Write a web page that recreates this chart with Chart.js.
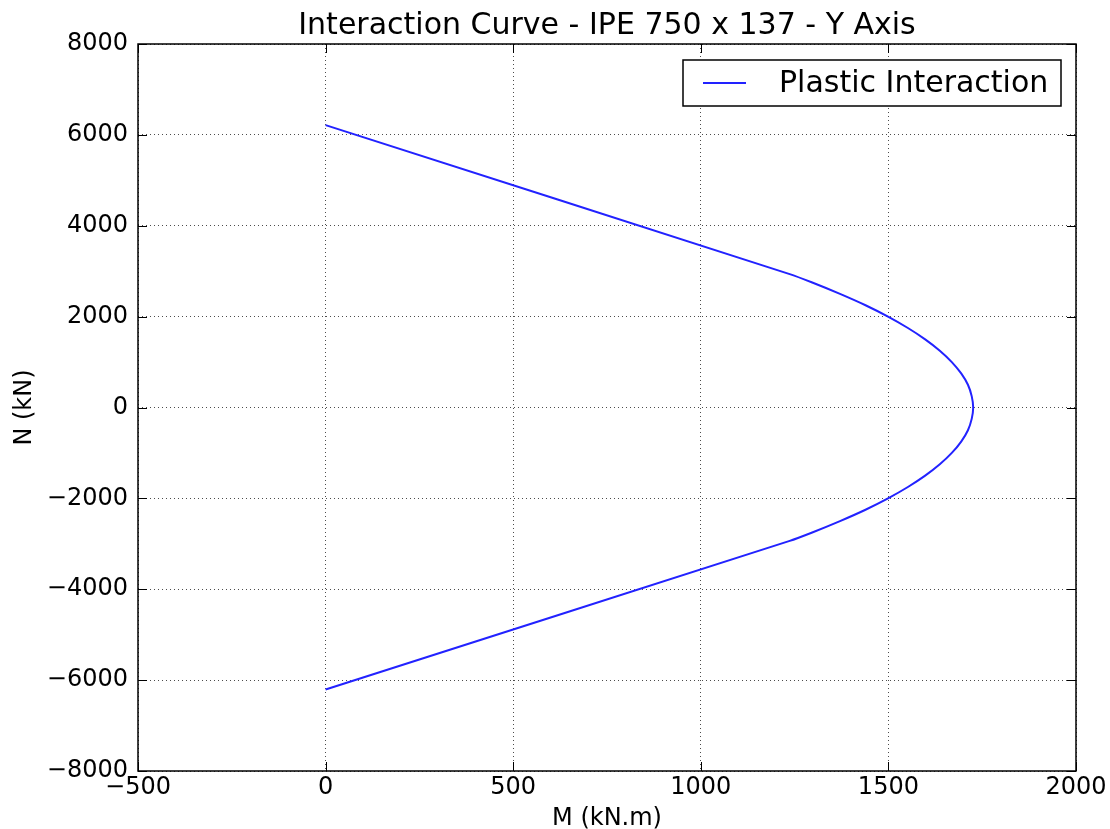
<!DOCTYPE html>
<html>
<head>
<meta charset="utf-8">
<script src="https://cdn.jsdelivr.net/npm/chart.js@4/dist/chart.umd.min.js"></script>
<style>
body{margin:0;background:#fff;}
#wrap{width:1110px;height:829px;}
</style>
</head>
<body>
<div id="wrap"><canvas id="chart" width="1110" height="829"></canvas></div>
<script>
// points of the interaction curve (top to bottom)
const momentValues = [0, 1237, 1297, 1371, 1439, 1499, 1552, 1598, 1637, 1669, 1694, 1712, 1722, 1726,
  1722, 1712, 1694, 1669, 1637, 1598, 1552, 1499, 1439, 1371, 1297, 1237, 0];
const axialValues = [6215, 2935, 2750, 2500, 2250, 2000, 1750, 1500, 1250, 1000, 750, 500, 250, 0,
  -250, -500, -750, -1000, -1250, -1500, -1750, -2000, -2250, -2500, -2750, -2935, -6205];

const xTicks = [-500, 0, 500, 1000, 1500, 2000];
const yTicks = [-8000, -6000, -4000, -2000, 0, 2000, 4000, 6000, 8000];

const chartTitle = "Interaction Curve - IPE 750 x 137 - Y Axis";
const seriesName = "Plastic Interaction";

const FONT = "'DejaVu Sans', sans-serif";

const fmt = v => (v < 0 ? "\u2212" + Math.abs(v) : "" + v);

const points = momentValues.map((m, i) => ({x: m, y: axialValues[i]}));

// title over the plot, frame, inward ticks on all four sides, boxed legend
const framePlugin = {
  id: "frame",
  afterDraw(chart){
    const ctx = chart.ctx;
    const a = chart.chartArea;
    const xs = chart.scales.x;
    const ys = chart.scales.y;
    ctx.save();

    ctx.fillStyle = "#000";
    ctx.font = "30px " + FONT;
    ctx.textAlign = "center";
    ctx.textBaseline = "alphabetic";
    ctx.fillText(chartTitle, (a.left + a.right) / 2, 34);
    ctx.textAlign = "left";

    ctx.strokeStyle = "#000";
    ctx.lineWidth = 1.5;
    ctx.strokeRect(a.left, a.top, a.right - a.left, a.bottom - a.top);
    ctx.lineWidth = 1;
    ctx.beginPath();
    xTicks.forEach(v => {
      const px = Math.round(xs.getPixelForValue(v)) + 0.5;
      ctx.moveTo(px, a.bottom); ctx.lineTo(px, a.bottom - 9);
      ctx.moveTo(px, a.top); ctx.lineTo(px, a.top + 9);
    });
    yTicks.forEach(v => {
      const py = Math.round(ys.getPixelForValue(v)) + 0.5;
      ctx.moveTo(a.left, py); ctx.lineTo(a.left + 9, py);
      ctx.moveTo(a.right, py); ctx.lineTo(a.right - 9, py);
    });
    ctx.stroke();

    // legend
    const bx = a.right - 393, by = a.top + 16, bw = 378, bh = 46;
    ctx.fillStyle = "#fff";
    ctx.fillRect(bx, by, bw, bh);
    ctx.lineWidth = 1.5;
    ctx.strokeRect(bx, by, bw, bh);
    ctx.strokeStyle = "#2222ff";
    ctx.lineWidth = 2;
    ctx.beginPath();
    ctx.moveTo(bx + 20, by + 23);
    ctx.lineTo(bx + 63, by + 23);
    ctx.stroke();
    ctx.fillStyle = "#000";
    ctx.font = "30px " + FONT;
    ctx.textBaseline = "middle";
    ctx.fillText(seriesName, bx + 96, by + 24);
    ctx.restore();
  }
};

new Chart(document.getElementById("chart"), {
  type: "scatter",
  data: {
    datasets: [{
      label: seriesName,
      data: points,
      showLine: true,
      borderColor: "#2222ff",
      borderWidth: 2,
      pointRadius: 0,
      tension: 0.2,
      fill: false
    }]
  },
  options: {
    responsive: false,
    animation: false,
    layout: {padding: {left: 0, right: 34, top: 44, bottom: 0}},
    plugins: {
      legend: {display: false},
      tooltip: {enabled: false},
      title: {display: false}
    },
    scales: {
      x: {
        type: "linear",
        min: -500,
        max: 2000,
        afterBuildTicks: s => { s.ticks = xTicks.map(v => ({value: v})); },
        afterFit: s => { s.height = 58; },
        ticks: {
          color: "#000",
          font: {family: FONT, size: 24},
          padding: 2,
          maxRotation: 0,
          callback: v => fmt(v)
        },
        grid: {color: "rgba(0,0,0,0.7)", lineWidth: 1, drawTicks: false},
        border: {display: false, dash: [1, 3]},
        title: {
          display: true,
          text: "M (kN.m)",
          color: "#000",
          font: {family: FONT, size: 24},
          padding: {top: 0, bottom: -4}
        }
      },
      y: {
        type: "linear",
        min: -8000,
        max: 8000,
        afterBuildTicks: s => { s.ticks = yTicks.map(v => ({value: v})); },
        afterFit: s => { s.width = 138; },
        ticks: {
          color: "#000",
          font: {family: FONT, size: 24},
          padding: 10,
          callback: v => fmt(v)
        },
        grid: {color: "rgba(0,0,0,0.7)", lineWidth: 1, drawTicks: false},
        border: {display: false, dash: [1, 3]},
        title: {
          display: true,
          text: "N (kN)",
          color: "#000",
          font: {family: FONT, size: 24},
          padding: {top: 10, bottom: 0}
        }
      }
    }
  },
  plugins: [framePlugin]
});
</script>
</body>
</html>
